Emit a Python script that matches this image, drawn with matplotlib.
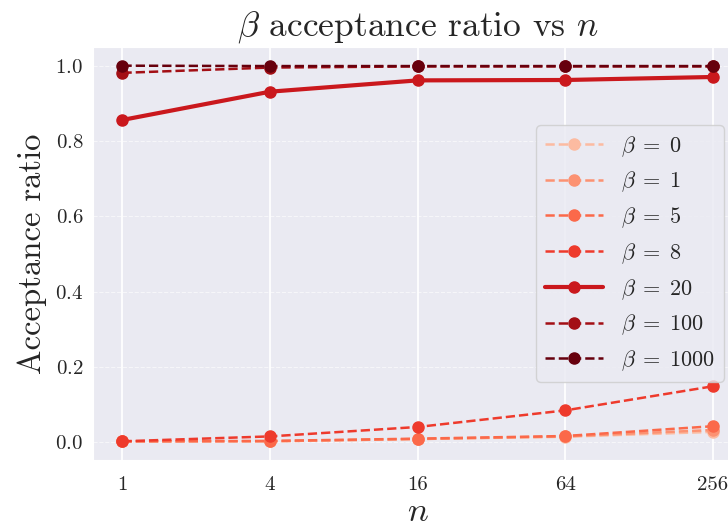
import numpy as np
import matplotlib
matplotlib.use("Agg")
import matplotlib.pyplot as plt
import seaborn as sns

sns.set_style("darkgrid")
plt.rcParams["font.family"] = "serif"
plt.rcParams["font.serif"] = ["cmr10"]
plt.rcParams["mathtext.fontset"] = "cm"
plt.rcParams["axes.formatter.use_mathtext"] = True

n_values = [1, 4, 16, 64, 256]
n_labels = ["1", "4", "16", "64", "256"]
betas = [0, 1, 5, 8, 20, 100, 1000]

acc_b0 = [0.003, 0.003, 0.009, 0.015, 0.028]
acc_b1 = [0.003, 0.003, 0.009, 0.016, 0.033]
acc_b5 = [0.003, 0.004, 0.010, 0.017, 0.043]
acc_b8 = [0.003, 0.016, 0.041, 0.085, 0.149]
acc_b20 = [0.856, 0.931, 0.961, 0.962, 0.970]
acc_b100 = [0.981, 0.995, 0.998, 0.998, 0.998]
acc_b1000 = [1.000, 0.999, 0.999, 0.999, 0.999]

series = [acc_b0, acc_b1, acc_b5, acc_b8, acc_b20, acc_b100, acc_b1000]
colors = plt.cm.Reds(np.linspace(0.25, 1.0, len(betas)))

fig = plt.figure(figsize=(7.28, 5.27), dpi=100)
ax = fig.add_axes([0.1277, 0.127, 0.892, 0.784])

for beta, acc, c in zip(betas, series, colors):
    label = rf"$\beta \;=\; {beta}$"
    if beta == 20:
        ax.plot(n_values, acc, "-o", color=c, lw=3, ms=8, label=label)
    else:
        ax.plot(n_values, acc, "--o", color=c, lw=1.8, ms=8, label=label)

ax.set_xscale("log", base=2)
ax.set_xticks(n_values)
ax.set_xticklabels(n_labels)
ax.minorticks_off()
ax.tick_params(labelsize=15)
ax.tick_params(axis="x", pad=8)
ax.grid(axis="x", linewidth=1.3)
ax.grid(axis="y", linestyle="--", alpha=0.6)

ax.set_title(r"$\beta$ acceptance ratio vs $n$", fontsize=25.5, pad=8)
ax.set_xlabel(r"$n$", fontsize=25, labelpad=2)
ax.set_ylabel("Acceptance ratio", fontsize=23.5, labelpad=6)

ax.legend(loc="center right", bbox_to_anchor=(0.9715, 0.5), borderaxespad=0,
          fontsize=16, handlelength=2.6)

fig.savefig("out.png", dpi=100)
